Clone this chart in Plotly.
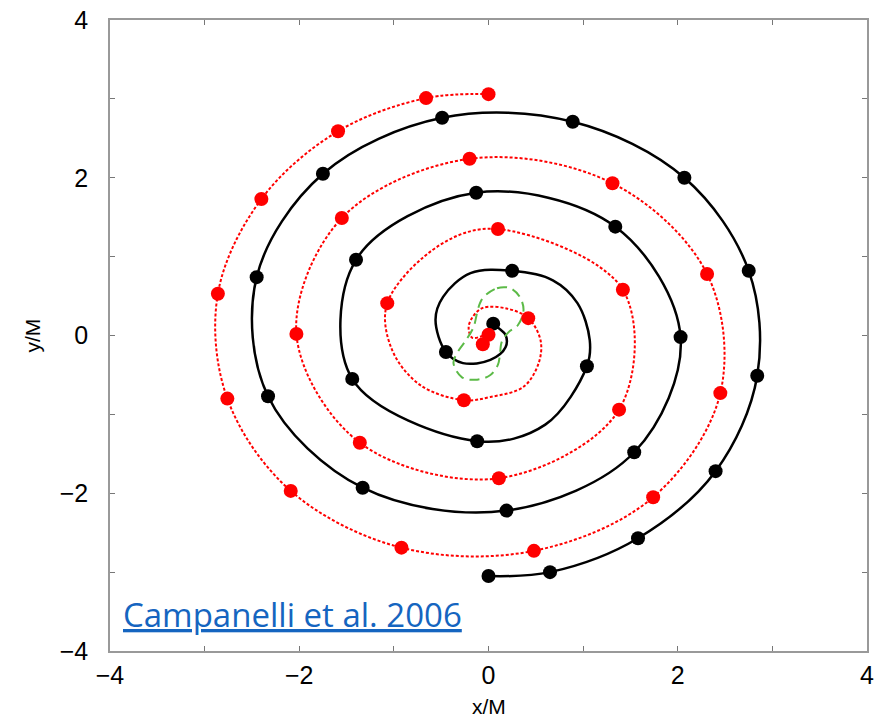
import plotly.graph_objects as go

# Black hole 1 trajectory: dots (time markers)
bh1_dot_x = [0.00, 0.65, 1.58, 2.40, 2.84, 2.75, 2.07, 0.89, -0.49, -1.75, -2.45, -2.33, -1.33, 0.19,
             1.54, 2.03, 1.34, -0.13, -1.40, -1.44, -0.12, 1.04, 0.25, -0.45, 0.05]
bh1_dot_y = [-3.05, -3.00, -2.57, -1.72, -0.51, 0.82, 2.00, 2.71, 2.76, 2.05, 0.74, -0.77, -1.93, -2.22,
             -1.48, -0.02, 1.38, 1.81, 0.96, -0.55, -1.34, -0.39, 0.82, -0.21, 0.15]

# Black hole 1 track (dots plus extra points)
bh1_track_x = [0.00, 0.65, 1.58, 2.40, 2.84, 2.75, 2.07, 0.89, -0.49, -1.75, -2.45, -2.33, -1.33, 0.19,
               1.54, 2.03, 1.34, -0.13, -1.40, -1.44, -0.12, 0.60, 1.04, 1.07, 0.94, 0.68, 0.25,
               -0.19, -0.48, -0.56, -0.45, -0.27, 0.02, 0.18, 0.18, 0.12, 0.05]
bh1_track_y = [-3.05, -3.00, -2.57, -1.72, -0.51, 0.82, 2.00, 2.71, 2.76, 2.05, 0.74, -0.77, -1.93, -2.22,
               -1.48, -0.02, 1.38, 1.81, 0.96, -0.55, -1.34, -1.13, -0.39, -0.06, 0.41, 0.70, 0.82,
               0.79, 0.49, 0.20, -0.21, -0.35, -0.31, -0.15, 0.01, 0.08, 0.15]

# Black hole 2 trajectory: dots
bh2_dot_x = [0.00, -0.66, -1.59, -2.40, -2.86, -2.76, -2.09, -0.92, 0.48, 1.74, 2.45, 2.31, 1.31,
             -0.20, -1.55, -2.03, -1.36, 0.11, 1.38, 1.42, 0.10, -1.07, -0.26, 0.42, 0.00, -0.06]
bh2_dot_y = [3.06, 3.01, 2.59, 1.73, 0.53, -0.80, -1.97, -2.69, -2.73, -2.05, -0.73, 0.78, 1.93,
             2.24, 1.49, 0.02, -1.36, -1.81, -0.94, 0.58, 1.35, 0.41, -0.82, 0.22, 0.01, -0.11]

# Black hole 2 track
bh2_track_x = [0.00, -0.66, -1.59, -2.40, -2.86, -2.76, -2.09, -0.92, 0.48, 1.74, 2.45, 2.31, 1.31,
               -0.20, -1.55, -2.03, -1.36, 0.11, 1.38, 1.42, 0.10, -0.51, -1.07, -1.02, -0.72, -0.26,
               0.02, 0.37, 0.53, 0.55, 0.42, 0.20, -0.06, -0.17, -0.21, -0.17, 0.00, -0.06]
bh2_track_y = [3.06, 3.01, 2.59, 1.73, 0.53, -0.80, -1.97, -2.69, -2.73, -2.05, -0.73, 0.78, 1.93,
               2.24, 1.49, 0.02, -1.36, -1.81, -0.94, 0.58, 1.35, 1.15, 0.41, -0.18, -0.63, -0.82,
               -0.78, -0.65, -0.35, -0.06, 0.22, 0.34, 0.35, 0.23, 0.10, -0.03, 0.01, -0.11]

# Common horizon (green dashed closed curve)
horizon_x = [-0.05, 0.09, 0.23, 0.33, 0.37, 0.31, 0.21, 0.14, 0.12, 0.10, 0.02, -0.12, -0.28, -0.37,
             -0.33, -0.25, -0.16, -0.12, -0.09, -0.05]
horizon_y = [0.49, 0.60, 0.60, 0.49, 0.32, 0.13, 0.04, -0.08, -0.25, -0.37, -0.50, -0.56, -0.53, -0.35,
             -0.22, -0.08, 0.10, 0.29, 0.41, 0.49]

tick_vals = [-4, -3, -2, -1, 0, 1, 2, 3, 4]
tick_text = ["\u22124", "", "\u22122", "", "0", "", "2", "", "4"]

fig = go.Figure()

fig.add_trace(go.Scatter(x=bh2_track_x, y=bh2_track_y, mode="lines",
                         line=dict(color="#ff0000", width=2, dash="3px,2px", shape="spline"),
                         hoverinfo="skip"))
fig.add_trace(go.Scatter(x=bh1_track_x, y=bh1_track_y, mode="lines",
                         line=dict(color="black", width=2.5, shape="spline"), hoverinfo="skip"))
fig.add_trace(go.Scatter(x=horizon_x, y=horizon_y, mode="lines",
                         line=dict(color="#5cba47", width=2, dash="10px,6px", shape="spline"),
                         hoverinfo="skip"))
fig.add_trace(go.Scatter(x=bh1_dot_x, y=bh1_dot_y, mode="markers",
                         marker=dict(color="black", size=14, line=dict(width=0))))
fig.add_trace(go.Scatter(x=bh2_dot_x, y=bh2_dot_y, mode="markers",
                         marker=dict(color="#ff0000", size=14, line=dict(width=0))))

axis_common = dict(
    range=[-4, 4], tickmode="array", tickvals=tick_vals, ticktext=tick_text,
    ticks="inside", ticklen=5, tickwidth=1, tickcolor="#777",
    showline=True, linecolor="#999", linewidth=1.5, mirror="ticks",
    showgrid=False, zeroline=False, automargin=False,
    tickfont=dict(family="Liberation Sans, Arial, sans-serif", size=25, color="black"),
    ticklabeloverflow="allow",
)

title_font = dict(family="Liberation Sans, Arial, sans-serif", size=21, color="black")

fig.update_layout(
    width=876, height=721,
    margin=dict(l=110, r=9, t=20, b=70, autoexpand=False),
    paper_bgcolor="white", plot_bgcolor="white",
    showlegend=False,
    xaxis=dict(**axis_common, ticklabelstandoff=1),
    yaxis=dict(**axis_common, ticklabelstandoff=15),
    annotations=[
        dict(text="<u>Campanelli et al. 2006</u>", xref="paper", yref="paper",
             x=0.015, y=0.058, xanchor="left", yanchor="middle", showarrow=False,
             font=dict(family="Open Sans, sans-serif", size=33, color="#1565c0")),
        dict(text="x/M", xref="paper", yref="paper", x=0.5, y=-0.1093,
             xanchor="center", yanchor="bottom", showarrow=False, font=title_font),
        dict(text="y/M", xref="paper", yref="paper", x=-0.103, y=0.5, textangle=-90,
             xanchor="center", yanchor="middle", showarrow=False, font=title_font),
    ],
)

# remove the page's default body margin so the 876x721 figure fills the window exactly
fig.write_html("out.html", config={"displayModeBar": False},
               post_script="document.body.style.margin='0';document.body.style.overflow='hidden';")
